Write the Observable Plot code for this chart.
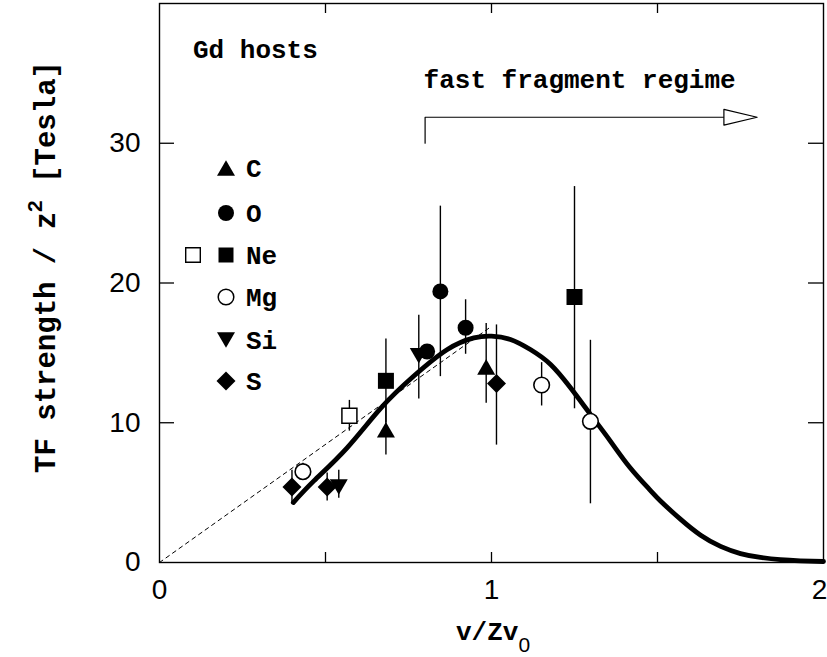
<!DOCTYPE html>
<html><head><meta charset="utf-8">
<script src="https://cdn.jsdelivr.net/npm/d3@7"></script>
<script src="https://cdn.jsdelivr.net/npm/@observablehq/plot@0.6"></script>
<style>body{margin:0;background:#fff}#chart{width:827px;height:657px}</style>
</head><body><div id="chart"></div>
<script>
// ---- data (v/Zv0, TF strength / Z^2 [T], error-bar low, high) ----
const C_v  = [0.682, 0.984];
const C_b  = [9.5, 14.0];
const C_lo = [7.7, 11.4];
const C_hi = [11.3, 17.1];

const O_v  = [0.806, 0.846, 0.922];
const O_b  = [15.1, 19.4, 16.8];
const O_lo = [14.6, 13.3, 14.9];
const O_hi = [15.6, 25.5, 18.8];

const Ne_v  = [0.682, 1.25];
const Ne_b  = [13.0, 19.0];
const Ne_lo = [10.0, 11.0];
const Ne_hi = [16.0, 26.9];

const NeOpen_v  = [0.572];
const NeOpen_b  = [10.5];
const NeOpen_lo = [9.4];
const NeOpen_hi = [11.6];

const Mg_v  = [0.432, 1.151, 1.298];
const Mg_b  = [6.5, 12.7, 10.1];
const Mg_lo = [5.9, 11.2, 4.2];
const Mg_hi = [7.1, 14.3, 15.9];

const Si_v  = [0.540, 0.781];
const Si_b  = [5.4, 14.8];
const Si_lo = [4.6, 11.7];
const Si_hi = [6.6, 17.7];

const S_v  = [0.399, 0.505, 1.015];
const S_b  = [5.4, 5.4, 12.8];
const S_lo = [4.2, 4.4, 8.4];
const S_hi = [6.6, 6.4, 17.0];

// parametrization curve
const curveV = [0.403,0.465,0.565,0.666,0.766,0.867,0.947,1.0,1.057,1.117,1.178,1.238,1.298,1.358,1.417,1.477,1.509,1.569,1.63,1.69,1.75,1.81,1.87,1.93,2.0];
const curveB = [4.29,5.84,8.21,11.03,13.34,15.24,16.07,16.2,15.96,15.24,14.17,12.5,10.6,8.69,6.8,5.2,4.4,3.1,1.95,1.15,0.64,0.36,0.2,0.12,0.07];

// linear (dashed) line
const dashV = [0, 1.0];
const dashB = [0, 16.9];

// "fast fragment regime" arrow
const arrowV = [0.8, 0.8, 1.7];
const arrowB = [30, 31.86, 31.86];
const headV = [1.7, 1.8, 1.7, 1.7];
const headB = [32.42, 31.86, 31.30, 32.42];

// axes
const xTickLabels = [0, 1];
const xTickLabelsEnd = [2];
const yTickLabels = [0, 10, 20, 30];
const xMinorTicks = [0.5, 1, 1.5];
const yMinorTicks = [10, 20, 30];

const legendNames = ["C", "O", "Ne", "Mg", "Si", "S"];

// ---- build tables ----
const rows = (v, b, lo, hi) => v.map((x, i) => ({v: x, b: b[i], lo: lo[i], hi: hi[i]}));
const C = rows(C_v, C_b, C_lo, C_hi);
const O = rows(O_v, O_b, O_lo, O_hi);
const Ne = rows(Ne_v, Ne_b, Ne_lo, Ne_hi);
const NeOpen = rows(NeOpen_v, NeOpen_b, NeOpen_lo, NeOpen_hi);
const Mg = rows(Mg_v, Mg_b, Mg_lo, Mg_hi);
const Si = rows(Si_v, Si_b, Si_lo, Si_hi);
const S = rows(S_v, S_b, S_lo, S_hi);
const all = [...C, ...O, ...Ne, ...NeOpen, ...Mg, ...Si, ...S];
const curve = curveV.map((v, i) => ({v, b: curveB[i]}));
const dash = dashV.map((v, i) => ({v, b: dashB[i]}));
const arrow = arrowV.map((v, i) => ({v, b: arrowB[i]}));
const head = headV.map((v, i) => ({v, b: headB[i]}));

// ---- custom symbols (size = r*r*PI, r = half width) ----
const half = (size) => Math.sqrt(size / Math.PI);
const triUp = {draw(c, size) { const r = half(size), h = r * Math.sqrt(3) / 2; c.moveTo(0, -h); c.lineTo(r, h); c.lineTo(-r, h); c.closePath(); }};
const triDown = {draw(c, size) { const r = half(size), h = r * Math.sqrt(3) / 2; c.moveTo(0, h); c.lineTo(r, -h); c.lineTo(-r, -h); c.closePath(); }};
const square = {draw(c, size) { const r = half(size); c.moveTo(-r, -r); c.lineTo(r, -r); c.lineTo(r, r); c.lineTo(-r, r); c.closePath(); }};
const diamond = {draw(c, size) { const r = half(size); c.moveTo(0, -r); c.lineTo(r, 0); c.lineTo(0, r); c.lineTo(-r, 0); c.closePath(); }};

const W = 827, Hh = 657, mL = 159, mR = 4, mT = 3, mB = 95;
const PH = Hh - mT - mB, PW = W - mL - mR;
const mono = "'Liberation Mono', 'Courier New', Courier, monospace";
const sans = "'Liberation Sans', Helvetica, Arial, sans-serif";

const plot = Plot.plot({
  width: W, height: Hh,
  marginLeft: mL, marginRight: mR, marginTop: mT, marginBottom: mB,
  style: {background: "white", color: "black"},
  x: {domain: [0, 2]},
  y: {domain: [0, 40]},
  marks: [
    Plot.frame({stroke: "black", strokeWidth: 1.4}),
    Plot.ruleX(xMinorTicks, {x: d => d, insetTop: PH - 10, stroke: "black", strokeWidth: 1.3}),
    Plot.ruleX(xMinorTicks, {x: d => d, insetBottom: PH - 10, stroke: "black", strokeWidth: 1.3}),
    Plot.ruleY(yMinorTicks, {y: d => d, insetRight: PW - 15, stroke: "black", strokeWidth: 1.3}),
    Plot.ruleY(yMinorTicks, {y: d => d, insetLeft: PW - 15, stroke: "black", strokeWidth: 1.3}),
    Plot.axisX({ticks: xTickLabels, tickSize: 0, tickPadding: 17, fontSize: 28, fontFamily: sans, label: null, tickFormat: d => String(d)}),
    Plot.axisX({ticks: xTickLabelsEnd, tickSize: 0, tickPadding: 17, fontSize: 28, fontFamily: sans, label: null, dx: -4, tickFormat: d => String(d)}),
    Plot.axisY({ticks: yTickLabels, tickSize: 0, tickPadding: 19, fontSize: 28, fontFamily: sans, label: null, tickFormat: d => String(d)}),
    Plot.line(dash, {x: "v", y: "b", stroke: "black", strokeWidth: 1, strokeDasharray: "4,4"}),
    Plot.line(curve, {x: "v", y: "b", stroke: "black", strokeWidth: 4.8, curve: "natural"}),
    Plot.ruleX(all, {x: "v", y1: "lo", y2: "hi", stroke: "black", strokeWidth: 1.4}),
    Plot.dot(C, {x: "v", y: "b", symbol: triUp, r: 9, fill: "black", stroke: "none"}),
    Plot.dot(O, {x: "v", y: "b", symbol: "circle", r: 8, fill: "black", stroke: "none"}),
    Plot.dot(Ne, {x: "v", y: "b", symbol: square, r: 8, fill: "black", stroke: "none"}),
    Plot.dot(NeOpen, {x: "v", y: "b", symbol: square, r: 7.5, fill: "white", stroke: "black", strokeWidth: 1.5}),
    Plot.dot(Mg, {x: "v", y: "b", symbol: "circle", r: 7.8, fill: "white", stroke: "black", strokeWidth: 1.6}),
    Plot.dot(Si, {x: "v", y: "b", symbol: triDown, r: 9, fill: "black", stroke: "none"}),
    Plot.dot(S, {x: "v", y: "b", symbol: diamond, r: 9.5, fill: "black", stroke: "none"}),
    Plot.line(arrow, {x: "v", y: "b", stroke: "black", strokeWidth: 1.2}),
    Plot.line(head, {x: "v", y: "b", stroke: "black", strokeWidth: 1.2, fill: "white"})
  ]
});
document.getElementById("chart").appendChild(plot);

// ---- overlay text, legend ----
const svg = d3.select(plot);
const sx = plot.scale("x");
const txt = (x, y, s) => svg.append("text").attr("x", x).attr("y", y)
  .attr("text-anchor", "start")
  .attr("font-family", mono).attr("font-weight", "bold").attr("font-size", 26).attr("fill", "black")
  .text(s);

// y axis title
const yt = svg.append("text")
  .attr("transform", "translate(55,267) rotate(-90)")
  .attr("text-anchor", "middle")
  .attr("font-family", mono).attr("font-weight", "bold").attr("font-size", 29).attr("fill", "black");
yt.append("tspan").text("TF strength / z");
yt.append("tspan").attr("font-family", sans).attr("font-weight", "bold").attr("font-size", 21).attr("dy", -13).text("2");
yt.append("tspan").attr("dy", 13).text(" [Tesla]");

// x axis title
const xt = svg.append("text")
  .attr("x", 456).attr("y", 640)
  .attr("text-anchor", "start")
  .attr("font-family", mono).attr("font-weight", "bold").attr("font-size", 26).attr("fill", "black");
xt.append("tspan").text("v/Zv");
xt.append("tspan").attr("font-family", sans).attr("font-size", 21).attr("font-weight", "normal").attr("dy", 12).text("0");

// annotations
txt(193, 58, "Gd hosts");
txt(sx.apply(arrowV[0]) - 1, 88, "fast fragment regime");

// legend
const legendY = [168, 213, 255, 297, 340, 381];
const legendSym = [
  {t: triUp, s: 9, fill: "black"},
  {t: d3.symbolCircle, s: 8, fill: "black"},
  {t: square, s: 7.5, fill: "black"},
  {t: d3.symbolCircle, s: 7.8, fill: "white", stroke: "black"},
  {t: triDown, s: 9, fill: "black"},
  {t: diamond, s: 9.5, fill: "black"}
];
const lg = svg.append("g");
legendNames.forEach((name, i) => {
  const sym = legendSym[i];
  lg.append("path")
    .attr("transform", `translate(226,${legendY[i]})`)
    .attr("d", d3.symbol(sym.t, sym.s * sym.s * Math.PI)())
    .attr("fill", sym.fill)
    .attr("stroke", sym.stroke || "none")
    .attr("stroke-width", 1.5);
  txt(246, legendY[i] + 9, name);
});
// open Ne square in legend
lg.append("path")
  .attr("transform", `translate(193,${legendY[2]})`)
  .attr("d", d3.symbol(square, 7.3 * 7.3 * Math.PI)())
  .attr("fill", "white").attr("stroke", "black").attr("stroke-width", 1.4);
</script>
</body></html>
